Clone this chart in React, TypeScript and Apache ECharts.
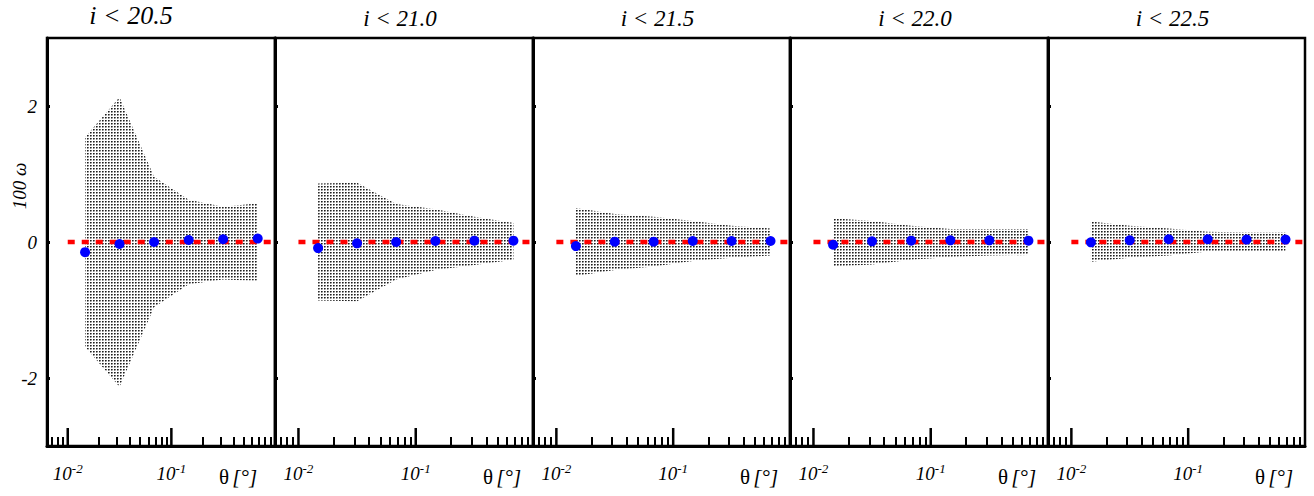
import React, { useEffect, useRef } from 'react';
import * as echarts from 'echarts';

// ---- data ----
const magCuts = ['20.5', '21.0', '21.5', '22.0', '22.5'];
const theta = [0.0147, 0.0316, 0.0681, 0.147, 0.316, 0.681];

const omega205 = [-0.15, -0.03, 0.0, 0.03, 0.04, 0.05];
const omega210 = [-0.09, -0.02, 0.0, 0.015, 0.02, 0.02];
const omega215 = [-0.06, 0.005, 0.005, 0.015, 0.015, 0.015];
const omega220 = [-0.04, 0.01, 0.02, 0.025, 0.025, 0.02];
const omega225 = [-0.005, 0.025, 0.04, 0.04, 0.035, 0.035];

const bandHi205 = [1.54, 2.13, 0.96, 0.62, 0.52, 0.57];
const bandLo205 = [-1.54, -2.13, -0.96, -0.62, -0.55, -0.57];
const bandHi210 = [0.86, 0.87, 0.56, 0.48, 0.37, 0.28];
const bandLo210 = [-0.86, -0.87, -0.55, -0.41, -0.34, -0.26];
const bandHi215 = [0.5, 0.41, 0.37, 0.31, 0.24, 0.2];
const bandLo215 = [-0.5, -0.41, -0.36, -0.28, -0.23, -0.2];
const bandHi220 = [0.35, 0.31, 0.24, 0.19, 0.19, 0.19];
const bandLo220 = [-0.36, -0.33, -0.26, -0.22, -0.2, -0.19];
const bandHi225 = [0.3, 0.24, 0.2, 0.15, 0.14, 0.14];
const bandLo225 = [-0.29, -0.23, -0.2, -0.14, -0.14, -0.14];

const omegaSets = [omega205, omega210, omega215, omega220, omega225];
const bandHiSets = [bandHi205, bandHi210, bandHi215, bandHi220, bandHi225];
const bandLoSets = [bandLo205, bandLo210, bandLo215, bandLo220, bandLo225];

const refX = [0.01, 1.0];
const refY = 0;

const xMajorTicks = [0.01, 0.1];
const xMinorTicks = [
  0.007, 0.008, 0.009,
  0.02, 0.03, 0.04, 0.05, 0.06, 0.07, 0.08, 0.09,
  0.2, 0.3, 0.4, 0.5, 0.6, 0.7, 0.8, 0.9,
];
const yTicks = [-2, 0, 2];

const X_MIN = Math.pow(10, -2.2);
const X_MAX = 1.0;
const Y_MIN = -3;
const Y_MAX = 3;

// ---- layout ----
const panelLeft = [47, 275, 533, 790, 1048];
const panelWidth = [228, 258, 257, 258, 257];
const TOP = 38;
const HEIGHT = 408;
const MAJOR_TICK_LEN = 18;
const FONT = '"Liberation Serif", "DejaVu Serif", serif';

export default function App() {
  const ref = useRef<HTMLDivElement>(null);

  useEffect(() => {
    document.body.style.margin = '0';
    const chart = echarts.init(ref.current!, null, { renderer: 'svg' });

    // stipple tile
    const cv = document.createElement('canvas');
    cv.width = 3;
    cv.height = 3;
    const ctx = cv.getContext('2d')!;
    ctx.fillStyle = '#ffffff';
    ctx.fillRect(0, 0, 3, 3);
    ctx.fillStyle = '#1e1e1e';
    ctx.fillRect(0, 0, 1, 1);
    ctx.fillStyle = '#6a6a6a';
    ctx.fillRect(1, 0, 1, 1);
    ctx.fillStyle = '#8a8a8a';
    ctx.fillRect(0, 1, 1, 1);
    ctx.fillStyle = '#c4c4c4';
    ctx.fillRect(1, 1, 1, 1);
    const pattern: any = {
      image: cv.toDataURL(),
      repeat: 'repeat',
      imageWidth: 3,
      imageHeight: 3,
    };

    const grids: any[] = [];
    const xAxes: any[] = [];
    const yAxes: any[] = [];
    const series: any[] = [];
    const graphics: any[] = [];

    for (let i = 0; i < 5; i++) {
      grids.push({
        left: panelLeft[i],
        top: TOP,
        width: panelWidth[i],
        height: HEIGHT,
        show: true,
        borderColor: '#000',
        borderWidth: 2.5,
        backgroundColor: 'transparent',
      });
      xAxes.push({
        type: 'log',
        gridIndex: i,
        min: X_MIN,
        max: X_MAX,
        position: 'bottom',
        axisLine: { show: true, onZero: false, lineStyle: { color: '#000', width: 3 } },
        axisTick: {
          show: true,
          inside: true,
          length: 9,
          lineStyle: { color: '#000', width: 2 },
          customValues: xMinorTicks,
        },
        axisLabel: {
          show: true,
          customValues: xMajorTicks,
          margin: 16,
          formatter: (v: number) => '{b|10}{s|' + Math.round(Math.log10(v)) + '}',
          rich: {
            b: { fontFamily: FONT, fontStyle: 'italic', fontSize: 19, color: '#000' },
            s: {
              fontFamily: FONT,
              fontStyle: 'italic',
              fontSize: 13,
              color: '#000',
              padding: [0, 0, 9, 0],
            },
          },
        },
        splitLine: { show: false },
        minorTick: { show: false },
      });
      yAxes.push({
        type: 'value',
        gridIndex: i,
        min: Y_MIN,
        max: Y_MAX,
        axisLine: { show: true, onZero: false, lineStyle: { color: '#000', width: 3 } },
        axisTick: {
          show: true,
          inside: true,
          length: 3,
          lineStyle: { color: '#000', width: 3 },
          customValues: yTicks,
        },
        axisLabel: {
          show: i === 0,
          customValues: yTicks,
          margin: 10,
          fontFamily: FONT,
          fontStyle: 'italic',
          fontSize: 19,
          color: '#000',
          formatter: (v: number) => String(v),
        },
        splitLine: { show: false },
      });

      const hi = bandHiSets[i];
      const lo = bandLoSets[i];
      series.push({
        type: 'custom',
        xAxisIndex: i,
        yAxisIndex: i,
        z: 1,
        silent: true,
        data: theta.map((t, k) => [t, hi[k], lo[k]]),
        encode: { x: 0, y: [1, 2] },
        renderItem: (params: any, api: any) => {
          if (params.dataIndex !== 0) return null;
          const pts: number[][] = [];
          for (let k = 0; k < theta.length; k++) pts.push(api.coord([theta[k], hi[k]]));
          for (let k = theta.length - 1; k >= 0; k--) pts.push(api.coord([theta[k], lo[k]]));
          return {
            type: 'polygon',
            shape: { points: pts },
            style: { fill: pattern, stroke: null },
          };
        },
      });
      series.push({
        type: 'line',
        xAxisIndex: i,
        yAxisIndex: i,
        z: 2,
        silent: true,
        symbol: 'none',
        data: refX.map((x) => [x, refY]),
        lineStyle: { color: '#ff0000', width: 4.5, type: [7, 7], cap: 'butt', opacity: 1 },
      });
      series.push({
        type: 'scatter',
        xAxisIndex: i,
        yAxisIndex: i,
        z: 3,
        silent: true,
        symbol: 'circle',
        symbolSize: 10,
        itemStyle: { color: '#0000ff', opacity: 1 },
        data: theta.map((t, k) => [t, omegaSets[i][k]]),
      });

      // title
      const isFirst = i === 0;
      graphics.push({
        type: 'text',
        x: isFirst ? 131 : panelLeft[i] + panelWidth[i] / 2 - 4,
        y: isFirst ? 15 : 18,
        style: {
          text: 'i < ' + magCuts[i],
          font: 'italic ' + (isFirst ? 26 : 23) + 'px ' + FONT,
          fill: '#000',
          textAlign: 'center',
          textVerticalAlign: 'middle',
        },
      });
      // theta label
      graphics.push({
        type: 'text',
        x: panelLeft[i] + panelWidth[i] - (isFirst ? 37 : 31),
        y: 477,
        style: {
          text: '{a|θ} {b|[°]}',
          rich: {
            a: { fontFamily: FONT, fontSize: 21, fill: '#000' },
            b: { fontFamily: FONT, fontStyle: 'italic', fontSize: 21, fill: '#000' },
          },
          textAlign: 'center',
          textVerticalAlign: 'middle',
        },
      });
    }

    graphics.push({
      type: 'text',
      x: 19,
      y: 186,
      rotation: Math.PI / 2,
      style: {
        text: '100 ω',
        font: 'italic 19px ' + FONT,
        fill: '#000',
        textAlign: 'center',
        textVerticalAlign: 'middle',
      },
    });

    chart.setOption({
      animation: false,
      backgroundColor: '#fff',
      grid: grids,
      xAxis: xAxes,
      yAxis: yAxes,
      series,
      graphic: graphics,
    });

    // major x ticks: positions come from each panel's own axis scale
    const tickGraphics: any[] = [];
    for (let i = 0; i < 5; i++) {
      for (const v of xMajorTicks) {
        const p = chart.convertToPixel({ xAxisIndex: i, yAxisIndex: i }, [v, Y_MIN]) as number[];
        tickGraphics.push({
          type: 'line',
          z: 100,
          silent: true,
          shape: { x1: p[0], y1: p[1], x2: p[0], y2: p[1] - MAJOR_TICK_LEN },
          style: { stroke: '#000', lineWidth: 2.5 },
        });
      }
    }
    chart.setOption({ graphic: graphics.concat(tickGraphics) });

    return () => chart.dispose();
  }, []);

  return (
    <div
      ref={ref}
      style={{ position: 'fixed', left: 0, top: 0, width: 1314, height: 496 }}
    />
  );
}
